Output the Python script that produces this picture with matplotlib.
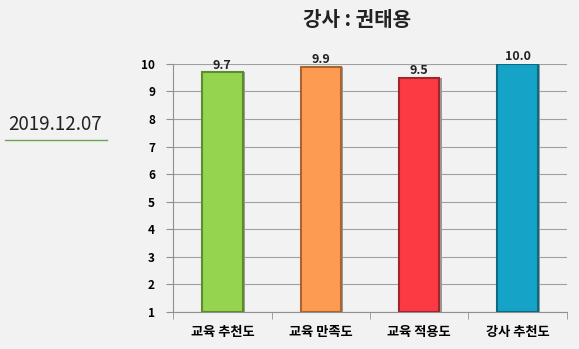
import matplotlib.pyplot as plt
import numpy as np

plt.rcParams['font.family'] = ['Noto Sans CJK KR', 'DejaVu Sans']

categories = ['교육 추천도', '교육 만족도', '교육 적용도', '강사 추천도']
scores = [9.7, 9.9, 9.5, 10.0]
labels = ['9.7', '9.9', '9.5', '10.0']
colors = ['#94d44e', '#fd9b52', '#fc3a44', '#15a4c8']
edges = ['#5e8a30', '#a8652f', '#a0252c', '#0d6a82']

fig = plt.figure(figsize=(5.79, 3.49), dpi=100)
fig.patch.set_facecolor('#f2f2f2')
ax = fig.add_axes([0.299, 0.106, 0.68, 0.711])
ax.set_facecolor('#f2f2f2')

x = np.arange(len(categories))
# shadow
ax.bar(x + 0.025, np.array(scores) - 1, bottom=1, width=0.41, color='#9a9a9a', zorder=2)
ax.bar(x, np.array(scores) - 1, bottom=1, width=0.41, color=colors,
       edgecolor=edges, linewidth=1.5, zorder=3)
for xi, s, lab in zip(x, scores, labels):
    ax.text(xi, s + 0.02, lab, ha='center', va='bottom', fontsize=9,
            fontweight='bold', color='#222222', zorder=4)

ax.set_xlim(-0.5, 3.5)
ax.set_ylim(1, 10)
ax.set_yticks(range(1, 11))
ax.yaxis.grid(True, color='#a0a0a0', linewidth=0.8, zorder=0)
ax.set_axisbelow(True)
ax.set_xticks(x)
ax.set_xticklabels(categories, fontsize=9.5, fontweight='bold')
ax.set_xticks(np.arange(-0.5, 4, 1), minor=True)
ax.tick_params(axis='x', which='major', length=0, pad=9)
ax.tick_params(axis='x', which='minor', length=5, color='#909090')
ax.tick_params(axis='y', length=5, color='#909090', labelsize=8.5, pad=8)
for t in ax.get_yticklabels():
    t.set_fontweight('bold')
for side in ['top', 'right']:
    ax.spines[side].set_visible(False)
ax.spines['left'].set_color('#909090')
ax.spines['bottom'].set_color('#909090')

fig.text(0.616, 0.945, '강사 : 권태용', ha='center', va='center', fontsize=14.5,
         fontweight='bold', color='#222222')
fig.text(0.015, 0.642, '2019.12.07', ha='left', va='center', fontsize=13.5, color='#222222')
fig.add_artist(plt.Line2D([0.009, 0.184], [0.6, 0.6], color='#6aa84f', linewidth=1))

fig.savefig('out.png', dpi=100, facecolor=fig.get_facecolor())
